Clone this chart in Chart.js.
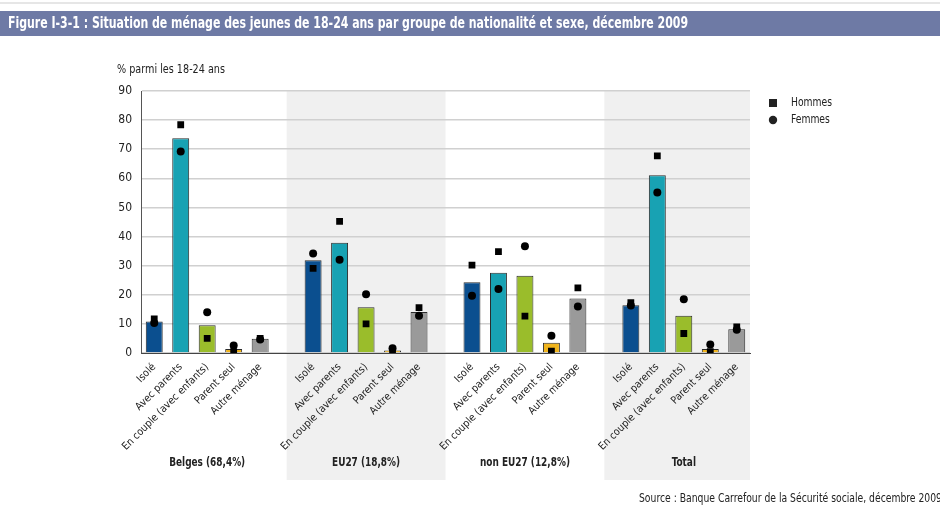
<!DOCTYPE html>
<html>
<head>
<meta charset="utf-8">
<script src="https://cdn.jsdelivr.net/npm/chart.js@4.4.1/dist/chart.umd.min.js"></script>
<style>
  html, body { margin: 0; padding: 0; background: #fff; }
  #wrap { width: 940px; height: 506px; position: relative; }
</style>
</head>
<body>
<div id="wrap"><canvas id="chart"></canvas></div>
<script>
var titre = 'Figure I-3-1 : Situation de ménage des jeunes de 18-24 ans par groupe de nationalité et sexe, décembre 2009';
var source = 'Source : Banque Carrefour de la Sécurité sociale, décembre 2009';
var groupes = ['Belges (68,4%)', 'EU27 (18,8%)', 'non EU27 (12,8%)', 'Total'];
var situations = ['Isolé', 'Avec parents', 'En couple (avec enfants)', 'Parent seul', 'Autre ménage'];
var couleurs = ['#0b4f8f', '#18a2b3', '#9abd2b', '#f0b41c', '#9a9a9a'];

// une ligne par groupe, dans l'ordre des situations
var ensemble = [
  10.8, 73.8, 9.5, 1.4, 4.9,
  31.9, 37.9, 15.7, 0.9, 14.1,
  24.3, 27.6, 26.5, 3.5, 18.7,
  16.4, 61.1, 12.8, 1.4, 8.2
];
var hommes = [
  11.7, 78.4, 5.0, 0.5, 5.0,
  29.1, 45.2, 10.0, 0.2, 15.6,
  30.2, 34.8, 12.7, 0.6, 22.4,
  17.3, 67.7, 6.7, 0.5, 9.0
];
var femmes = [
  10.3, 69.2, 14.0, 2.6, 4.6,
  34.2, 32.0, 20.2, 1.6, 12.8,
  19.7, 22.0, 36.7, 5.9, 16.0,
  16.3, 55.1, 18.5, 2.9, 8.0
];

// construit les 23 positions (5 barres par groupe + un vide entre groupes)
var labels = [], barres = [], carres = [], ronds = [], fonds = [];
for (var g = 0; g < groupes.length; g++) {
  for (var s = 0; s < situations.length; s++) {
    var k = g * situations.length + s;
    labels.push(situations[s]);
    barres.push(ensemble[k]);
    carres.push(hommes[k]);
    ronds.push(femmes[k]);
    fonds.push(couleurs[s]);
  }
  if (g < groupes.length - 1) {
    labels.push('');
    barres.push(null);
    carres.push(null);
    ronds.push(null);
    fonds.push('#fff');
  }
}

var police = '"Liberation Sans Narrow", "DejaVu Sans Condensed", "Roboto Condensed", "Liberation Sans", sans-serif';

// écrit un texte resserré horizontalement (facteur f)
function texteSerre(ctx, txt, x, y, f, font) {
  ctx.save();
  ctx.font = font;
  ctx.translate(x, y);
  ctx.scale(f, 1);
  ctx.fillText(txt, 0, 0);
  ctx.restore();
}

// facteur pour qu'un texte tienne dans une largeur donnée
function facteur(ctx, txt, largeur, font) {
  ctx.save();
  ctx.font = font;
  var w = ctx.measureText(txt).width;
  ctx.restore();
  return Math.min(1, largeur / w);
}

var decor = {
  id: 'decor',
  beforeDraw: function (chart) {
    var ctx = chart.ctx, x = chart.scales.x, a = chart.chartArea;
    ctx.save();
    ctx.fillStyle = '#f0f0f0';
    var d1 = x.getPixelForValue(5), f1 = x.getPixelForValue(11);
    ctx.fillRect(d1, a.top, f1 - d1, 480 - a.top);
    var d2 = x.getPixelForValue(17);
    ctx.fillRect(d2, a.top, a.right - d2, 480 - a.top);
    ctx.restore();
  },
  afterDraw: function (chart) {
    var ctx = chart.ctx, x = chart.scales.x;
    ctx.save();
    // bandeau du titre
    ctx.fillStyle = '#e6e6e6';
    ctx.fillRect(0, 2, 940, 2);
    ctx.fillStyle = '#6e7aa5';
    ctx.fillRect(0, 11, 940, 25);
    ctx.fillStyle = '#fff';
    ctx.textBaseline = 'middle';
    ctx.textAlign = 'left';
    var fT = 'bold 16px ' + police;
    texteSerre(ctx, titre, 8, 24, facteur(ctx, titre, 680, fT), fT);

    // titre de l'axe
    ctx.fillStyle = '#222';
    var fA = '12px ' + police;
    texteSerre(ctx, '% parmi les 18-24 ans', 117, 70, facteur(ctx, '% parmi les 18-24 ans', 108, fA), fA);

    // noms des groupes
    ctx.textAlign = 'center';
    var fG = 'bold 12.5px ' + police;
    var kG = facteur(ctx, groupes[0], 76, fG);
    for (var g = 0; g < groupes.length; g++) {
      texteSerre(ctx, groupes[g], x.getPixelForValue(g * 6 + 2), 463, kG, fG);
    }

    // légende
    ctx.textAlign = 'left';
    ctx.fillRect(769, 99, 8, 8);
    ctx.beginPath();
    ctx.arc(773, 120, 4.2, 0, Math.PI * 2);
    ctx.fill();
    var fL = '12px ' + police;
    var kL = facteur(ctx, 'Hommes', 41, fL);
    texteSerre(ctx, 'Hommes', 791, 103, kL, fL);
    texteSerre(ctx, 'Femmes', 791, 120, kL, fL);

    // source
    texteSerre(ctx, source, 639, 499, facteur(ctx, source, 303, fL), fL);
    ctx.restore();
  }
};

new Chart(document.getElementById('chart'), {
  type: 'bar',
  data: {
    labels: labels,
    datasets: [
      {
        label: 'Ensemble',
        data: barres,
        backgroundColor: fonds,
        borderColor: '#2b2b2b',
        borderWidth: 1,
        barPercentage: 0.64,
        categoryPercentage: 1,
        order: 3
      },
      {
        type: 'line',
        label: 'Hommes',
        data: carres,
        showLine: false,
        pointStyle: 'rect',
        pointRadius: 4.8,
        pointHoverRadius: 4.8,
        pointBackgroundColor: '#000',
        pointBorderWidth: 0,
        order: 1
      },
      {
        type: 'line',
        label: 'Femmes',
        data: ronds,
        showLine: false,
        pointStyle: 'circle',
        pointRadius: 4,
        pointHoverRadius: 4,
        pointBackgroundColor: '#000',
        pointBorderWidth: 0,
        order: 2
      }
    ]
  },
  options: {
    responsive: true,
    maintainAspectRatio: false,
    animation: false,
    layout: { padding: { left: 0, right: 190, top: 91, bottom: 3 } },
    plugins: {
      legend: { display: false },
      tooltip: { enabled: false }
    },
    scales: {
      x: {
        offset: true,
        grid: { display: false },
        border: { display: true, color: '#444', width: 1 },
        ticks: {
          autoSkip: false,
          minRotation: 45,
          maxRotation: 45,
          padding: 0,
          color: '#222',
          font: { family: police, size: 10.5 }
        },
        afterFit: function (scale) { scale.height = 150; }
      },
      y: {
        min: 0,
        max: 90,
        ticks: {
          stepSize: 10,
          padding: 9,
          color: '#222',
          font: { family: police, size: 12 }
        },
        grid: { color: '#d0d0d0', lineWidth: 1.5, drawTicks: false },
        border: { display: true, color: '#555', width: 1 },
        afterFit: function (scale) { scale.width = 141; }
      }
    }
  },
  plugins: [decor]
});
</script>
</body>
</html>
